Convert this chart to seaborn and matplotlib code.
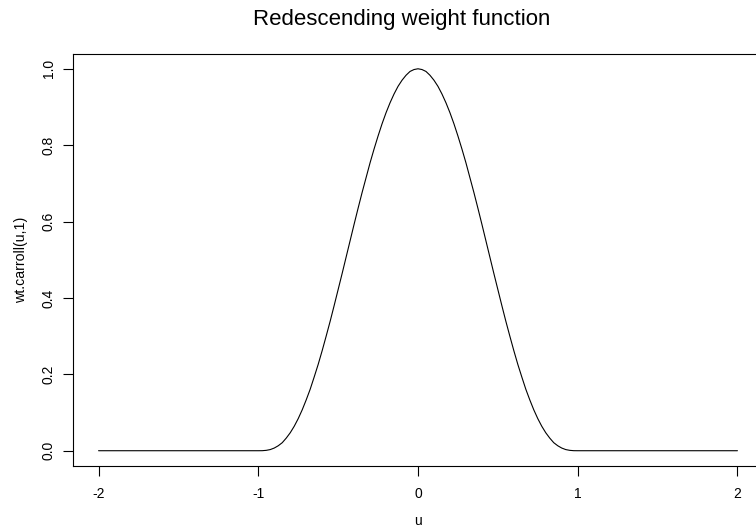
import matplotlib
matplotlib.use("Agg")
import matplotlib.pyplot as plt
import seaborn as sns
import pandas as pd

# Values
u_vals = [-2.0,
          -1.0, -0.975, -0.95, -0.925, -0.9, -0.875, -0.85, -0.825, -0.8, -0.775,
          -0.75, -0.725, -0.7, -0.675, -0.65, -0.625, -0.6, -0.575, -0.55, -0.525,
          -0.5, -0.475, -0.45, -0.425, -0.4, -0.375, -0.35, -0.325, -0.3, -0.275,
          -0.25, -0.225, -0.2, -0.175, -0.15, -0.125, -0.1, -0.075, -0.05, -0.025,
          0.0,
          0.025, 0.05, 0.075, 0.1, 0.125, 0.15, 0.175, 0.2, 0.225, 0.25,
          0.275, 0.3, 0.325, 0.35, 0.375, 0.4, 0.425, 0.45, 0.475, 0.5,
          0.525, 0.55, 0.575, 0.6, 0.625, 0.65, 0.675, 0.7, 0.725, 0.75,
          0.775, 0.8, 0.825, 0.85, 0.875, 0.9, 0.925, 0.95, 0.975, 1.0,
          2.0]
w_vals = [0.0,
          0.0, 0.0001, 0.001, 0.003, 0.007, 0.013, 0.021, 0.033, 0.047, 0.064,
          0.084, 0.107, 0.133, 0.161, 0.193, 0.226, 0.262, 0.300, 0.339, 0.380,
          0.422, 0.464, 0.507, 0.550, 0.593, 0.635, 0.676, 0.715, 0.754, 0.790,
          0.824, 0.856, 0.885, 0.911, 0.934, 0.954, 0.970, 0.983, 0.993, 0.998,
          1.0,
          0.998, 0.993, 0.983, 0.970, 0.954, 0.934, 0.911, 0.885, 0.856, 0.824,
          0.790, 0.754, 0.715, 0.676, 0.635, 0.593, 0.550, 0.507, 0.464, 0.422,
          0.380, 0.339, 0.300, 0.262, 0.226, 0.193, 0.161, 0.133, 0.107, 0.084,
          0.064, 0.047, 0.033, 0.021, 0.013, 0.007, 0.003, 0.001, 0.0001, 0.0,
          0.0]
x_ticks = [-2, -1, 0, 1, 2]
y_ticks = [0.0, 0.2, 0.4, 0.6, 0.8, 1.0]
y_ticklabels = ["0.0", "0.2", "0.4", "0.6", "0.8", "1.0"]
title = "Redescending weight function"
xlabel = "u"
ylabel = "wt.carroll(u,1)"

sns.set_theme(style="white")
plt.rcParams["font.family"] = ["Liberation Sans", "DejaVu Sans"]

W, H = 756, 532
fig = plt.figure(figsize=(W / 100, H / 100), dpi=100)
left, right, top, bottom = 73, 763, 53.5, 466
ax = fig.add_axes([left / W, (H - bottom) / H, (right - left) / W, (bottom - top) / H])

df = pd.DataFrame({"u": u_vals, "w": w_vals})
sns.lineplot(data=df, x="u", y="w", ax=ax, color="black", linewidth=0.8,
             estimator=None, sort=False)

ax.set_xlim(-2.16, 2.16)
ax.set_ylim(-0.04, 1.04)
ax.set_xticks(x_ticks)
ax.set_xticklabels([str(t) for t in x_ticks])
ax.set_yticks(y_ticks)
ax.set_yticklabels(y_ticklabels, rotation=90, va="center")
ax.tick_params(axis="both", direction="out", length=7.5, width=0.8, color="black",
               labelsize=10, labelcolor="black", bottom=True, left=True)
ax.tick_params(axis="x", pad=7.5)
ax.tick_params(axis="y", pad=5)
for s in ax.spines.values():
    s.set_visible(True)
    s.set_color("black")
    s.set_linewidth(0.8)

ax.set_xlabel(xlabel, fontsize=10, color="black")
ax.xaxis.set_label_coords(0.5, -(521 - bottom) / (bottom - top))
ax.xaxis.label.set_va("center")
ax.set_ylabel(ylabel, fontsize=10.2, color="black")
ax.yaxis.set_label_coords(-(left - 21) / (right - left), 0.5)
ax.yaxis.label.set_va("center")

fig.text(401.5 / W, 1 - 25.5 / H, title, ha="center", va="baseline", fontsize=16,
         color="black")

fig.savefig("out.png", dpi=100)
